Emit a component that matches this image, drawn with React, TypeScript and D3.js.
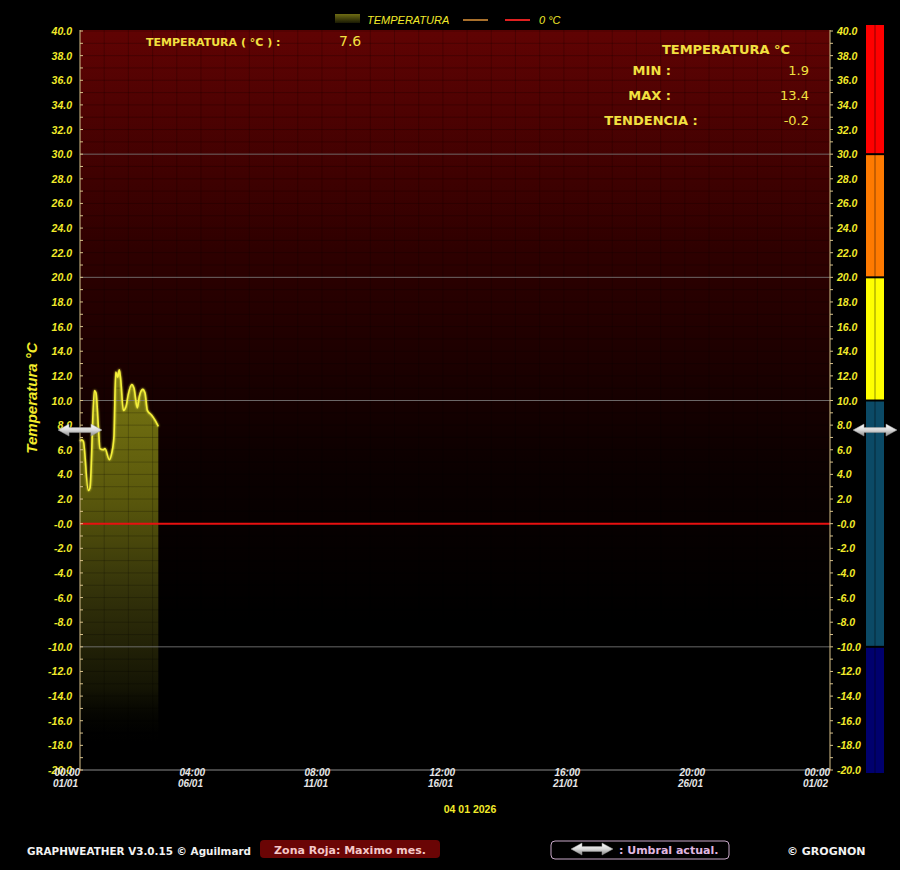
import React from "react";
import * as d3 from "d3";

const W = 900;
const H = 870;

// ---- data ----
const times = [
  "2026-01-01T00:00", "2026-01-01T01:42", "2026-01-01T03:18", "2026-01-01T08:12", "2026-01-01T09:54",
  "2026-01-01T14:12", "2026-01-01T15:54", "2026-01-01T18:12", "2026-01-01T19:48", "2026-01-01T23:06",
  "2026-01-02T00:48", "2026-01-02T05:06", "2026-01-02T07:24", "2026-01-02T09:42", "2026-01-02T11:24",
  "2026-01-02T13:24", "2026-01-02T15:00", "2026-01-02T16:24", "2026-01-02T19:00", "2026-01-02T21:36",
  "2026-01-02T23:54", "2026-01-03T03:18", "2026-01-03T05:36", "2026-01-03T08:48", "2026-01-03T10:48",
  "2026-01-03T14:12", "2026-01-03T16:30", "2026-01-03T18:48", "2026-01-03T23:06", "2026-01-04T02:24",
  "2026-01-04T05:42",
];
const temps = [
  6.7, 6.8, 6.7, 2.7, 2.9,
  10.8, 10.6, 7.9, 6.1, 6.0,
  6.1, 5.2, 5.7, 7.1, 12.3,
  11.9, 12.5, 11.7, 9.2, 9.5,
  10.5, 11.3, 11.0, 9.4, 10.3,
  10.9, 10.6, 9.2, 8.8, 8.4,
  7.9,
];

const yLabels = [
  "40.0", "38.0", "36.0", "34.0", "32.0", "30.0", "28.0", "26.0", "24.0", "22.0", "20.0",
  "18.0", "16.0", "14.0", "12.0", "10.0", "8.0", "6.0", "4.0", "2.0", "-0.0",
  "-2.0", "-4.0", "-6.0", "-8.0", "-10.0", "-12.0", "-14.0", "-16.0", "-18.0", "-20.0",
];
const xTickTimes = [
  "2026-01-01T00:00", "2026-01-06T04:00", "2026-01-11T08:00", "2026-01-16T12:00",
  "2026-01-21T16:00", "2026-01-26T20:00", "2026-02-01T00:00",
];
const xTickHours = ["00:00", "04:00", "08:00", "12:00", "16:00", "20:00", "00:00"];
const xTickDays = ["01/01", "06/01", "11/01", "16/01", "21/01", "26/01", "01/02"];
const majorLines = [30, 20, 10, -10];
const bandEdges = [40, 30, 20, 10, -10, -20];
const bandColors = ["#ff0000", "#ff7a00", "#ffff00", "#0b4a66", "#00006e"];
const currentTemp = 7.6;
const statLabels = ["MIN :", "MAX :", "TENDENCIA :"];
const statValues = ["1.9", "13.4", "-0.2"];

const YEL = "#f2ea2a";
const AXF = "'Liberation Sans', Arial, sans-serif";
const INF = "'DejaVu Sans', 'Open Sans', sans-serif";

function Arrow({ cx, cy, w }: { cx: number; cy: number; w: number }) {
  const h = w / 2;
  const head = 11;
  const hh = 6;
  const sh = 2.5;
  const d = `M${cx - h},${cy} L${cx - h + head},${cy - hh} L${cx - h + head},${cy - sh} L${cx + h - head},${cy - sh} L${cx + h - head},${cy - hh} L${cx + h},${cy} L${cx + h - head},${cy + hh} L${cx + h - head},${cy + sh} L${cx - h + head},${cy + sh} L${cx - h + head},${cy + hh} Z`;
  return <path d={d} fill="url(#silver)" stroke="#9a9a9a" strokeWidth={0.5} />;
}

export default function App() {
  const x = d3.scaleTime()
    .domain([new Date("2026-01-01T00:00"), new Date("2026-02-01T00:00")])
    .range([80, 830]);
  const y = d3.scaleLinear().domain([-20, 40]).range([770, 31]);

  const data = times.map((t, i) => ({ t: new Date(t), v: temps[i] }));
  const line = d3.line<{ t: Date; v: number }>()
    .x((d) => x(d.t)).y((d) => y(d.v)).curve(d3.curveMonotoneX);
  const area = d3.area<{ t: Date; v: number }>()
    .x((d) => x(d.t)).y0(y(-20)).y1((d) => y(d.v)).curve(d3.curveMonotoneX);

  const minorTicks = d3.range(-20, 41, 1);
  const gridH = d3.range(-20, 41, 1);
  const gridV = d3.range(0, 32).map((dd) => new Date(2026, 0, 1 + dd));
  const x0 = 80, x1 = 830;
  const top = y(40) - 1, bot = y(-20);

  return (
    <svg width={W} height={H} style={{ position: "absolute", left: 0, top: 0, background: "#000" }}>
      <defs>
        <linearGradient id="bg" x1="0" y1={top} x2="0" y2={bot} gradientUnits="userSpaceOnUse">
          <stop offset="0" stopColor="#600303" />
          <stop offset="0.3" stopColor="#2e0000" />
          <stop offset="0.6" stopColor="#0a0000" />
          <stop offset="0.8" stopColor="#000000" />
        </linearGradient>
        <linearGradient id="fill" x1="0" y1={y(13)} x2="0" y2={y(-18)} gradientUnits="userSpaceOnUse">
          <stop offset="0" stopColor="#7a7812" />
          <stop offset="0.35" stopColor="#5a580c" />
          <stop offset="0.6" stopColor="#33320a" />
          <stop offset="0.85" stopColor="#141404" />
          <stop offset="1" stopColor="#000000" stopOpacity="0" />
        </linearGradient>
        <linearGradient id="legfill" x1="0" y1="0" x2="0" y2="1">
          <stop offset="0" stopColor="#6e6c14" />
          <stop offset="1" stopColor="#1a1a04" />
        </linearGradient>
        <linearGradient id="silver" x1="0" y1="0" x2="0" y2="1">
          <stop offset="0" stopColor="#ffffff" />
          <stop offset="0.5" stopColor="#d8d8d8" />
          <stop offset="1" stopColor="#8a8a8a" />
        </linearGradient>
        <filter id="glow" x="-10%" y="-10%" width="120%" height="120%">
          <feGaussianBlur stdDeviation="1" result="b" />
          <feMerge>
            <feMergeNode in="b" />
            <feMergeNode in="SourceGraphic" />
          </feMerge>
        </filter>
      </defs>

      {/* plot background */}
      <rect x={x0} y={top} width={x1 - x0} height={bot - top} fill="url(#bg)" />

      {/* data area */}
      <path d={area(data) || ""} fill="url(#fill)" />

      {/* fine grid */}
      {gridH.map((v) => (
        <line key={"gh" + v} x1={x0} x2={x1} y1={y(v)} y2={y(v)} stroke="#000" strokeOpacity={0.22} />
      ))}
      {gridV.map((d, i) => (
        <line key={"gv" + i} x1={x(d)} x2={x(d)} y1={top} y2={bot} stroke="#000" strokeOpacity={0.2} />
      ))}

      {/* major lines */}
      {majorLines.map((v) => (
        <line key={"ml" + v} x1={x0} x2={x1} y1={y(v)} y2={y(v)} stroke="#8a8a8a" strokeOpacity={0.75} />
      ))}
      <line x1={x0} x2={x1} y1={bot} y2={bot} stroke="#8a8a8a" />
      <line x1={x0} x2={x1} y1={y(0)} y2={y(0)} stroke="#e81010" strokeWidth={2} />

      {/* data line */}
      <path d={line(data) || ""} fill="none" stroke="#f4f03a" strokeWidth={1.6} filter="url(#glow)" />

      {/* left axis */}
      <line x1={x0} x2={x0} y1={top} y2={bot} stroke="#d8c28a" />
      {minorTicks.map((v) => (
        <line key={"lt" + v} x1={x0} x2={x0 + 3} y1={y(v)} y2={y(v)} stroke="#d8c28a" />
      ))}
      {yLabels.map((l) => (
        <text key={"yl" + l} x={72} y={y(parseFloat(l)) + 4} textAnchor="end" fill={YEL}
          fontFamily={AXF} fontSize={10.5} fontWeight="bold" fontStyle="italic">{l}</text>
      ))}

      {/* right axis */}
      <line x1={x1} x2={x1} y1={top} y2={bot} stroke="#d8c28a" />
      {minorTicks.map((v) => (
        <line key={"rt" + v} x1={x1} x2={x1 + 3} y1={y(v)} y2={y(v)} stroke="#d8c28a" />
      ))}
      {yLabels.map((l) => (
        <text key={"yr" + l} x={837} y={y(parseFloat(l)) + 4} textAnchor="start" fill={YEL}
          fontFamily={AXF} fontSize={10.5} fontWeight="bold" fontStyle="italic">{l}</text>
      ))}

      {/* color bar */}
      {bandColors.map((c, i) => {
        const ya = i === 0 ? y(bandEdges[i]) - 6 : y(bandEdges[i]) + 1;
        const yb = i === bandColors.length - 1 ? y(bandEdges[i + 1]) + 3 : y(bandEdges[i + 1]) - 1;
        return <rect key={"b" + i} x={866} y={ya} width={18} height={yb - ya} fill={c} />;
      })}
      <line x1={875} x2={875} y1={y(40) - 6} y2={y(-20) + 3} stroke="#000" strokeOpacity={0.45} />

      {/* threshold arrows */}
      <Arrow cx={80} cy={y(currentTemp)} w={44} />
      <Arrow cx={875} cy={y(currentTemp)} w={44} />

      {/* x axis labels */}
      {xTickTimes.map((t, i) => (
        <g key={"xt" + i} fontFamily={AXF} fontSize={10} fontWeight="bold" fontStyle="italic" fill="#e6e6e6">
          <text x={x(new Date(t))} y={776} textAnchor="end">{xTickHours[i]}</text>
          <text x={x(new Date(t)) - 2} y={787} textAnchor="end">{xTickDays[i]}</text>
        </g>
      ))}
      <text x={470} y={813} textAnchor="middle" fill={YEL} fontFamily={AXF} fontSize={10.5} fontWeight="bold">04 01 2026</text>

      {/* y axis title */}
      <text transform={`translate(37,398) rotate(-90)`} textAnchor="middle" fill={YEL}
        fontFamily={AXF} fontSize={15} fontWeight="bold" fontStyle="italic">Temperatura °C</text>

      {/* legend */}
      <rect x={335} y={14} width={25} height={9} fill="url(#legfill)" />
      <text x={367} y={24} fill={YEL} fontFamily={AXF} fontSize={11} fontStyle="italic">TEMPERATURA</text>
      <line x1={463} x2={488} y1={20} y2={20} stroke="#a8702c" strokeWidth={2} />
      <line x1={505} x2={530} y1={20} y2={20} stroke="#e02020" strokeWidth={2} />
      <text x={539} y={24} fill={YEL} fontFamily={AXF} fontSize={11} fontStyle="italic">0 °C</text>

      {/* info */}
      <text x={146} y={46} fill="#f2e040" fontFamily={INF} fontSize={11} fontWeight="bold">TEMPERATURA ( °C ) :</text>
      <text x={339} y={46} fill="#f2e040" fontFamily={INF} fontSize={14}>{currentTemp.toFixed(1)}</text>
      <text x={726} y={54} textAnchor="middle" fill="#f2e040" fontFamily={INF} fontSize={13} fontWeight="bold">TEMPERATURA °C</text>
      {statLabels.map((l, i) => (
        <g key={"st" + i}>
          <text x={i === 2 ? 651 : 671} y={75 + i * 25} textAnchor={i === 2 ? "middle" : "end"} fill="#f2e040"
            fontFamily={INF} fontSize={13} fontWeight="bold">{l}</text>
          <text x={809} y={75 + i * 25} textAnchor="end" fill="#f2e040"
            fontFamily={INF} fontSize={13}>{statValues[i]}</text>
        </g>
      ))}

      {/* footer */}
      <text x={27} y={855} fill="#f2f2f2" fontFamily={INF} fontSize={11} fontWeight="bold"
        textLength={224} lengthAdjust="spacingAndGlyphs">GRAPHWEATHER V3.0.15 © Aguilmard</text>
      <rect x={260} y={840} width={180} height={18} rx={4} fill="#6a0505" />
      <text x={350} y={854} textAnchor="middle" fill="#f4c8c8" fontFamily={INF} fontSize={11} fontWeight="bold">Zona Roja: Maximo mes.</text>
      <rect x={551} y={841} width={178} height={18} rx={4} fill="none" stroke="#c8a8c8" />
      <Arrow cx={592} cy={849} w={42} />
      <text x={619} y={854} fill="#e0b8e0" fontFamily={INF} fontSize={11} fontWeight="bold">: Umbral actual.</text>
      <text x={787} y={855} fill="#f2f2f2" fontFamily={INF} fontSize={11} fontWeight="bold">© GROGNON</text>
    </svg>
  );
}
